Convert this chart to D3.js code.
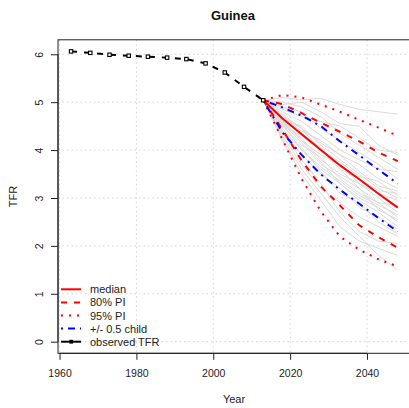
<!DOCTYPE html>
<html><head><meta charset="utf-8">
<script src="https://cdn.jsdelivr.net/npm/d3@7"></script>
<style>body{margin:0;background:#fff}svg{display:block}text{font-family:"Liberation Sans",Arial,sans-serif}</style>
</head><body><svg id="c" width="409" height="408"></svg>
<script>
const obsYears = [1963,1968,1973,1978,1983,1988,1993,1998,2003,2008,2013];
const obsTFR = [6.06,6.03,5.99,5.97,5.95,5.93,5.90,5.81,5.62,5.32,5.04];
const projYears = [2013,2018,2023,2028,2033,2038,2043,2048];
const medianTFR = [5.04,4.66,4.33,4.00,3.68,3.39,3.09,2.80];
const pi80Low = [5.04,4.43,3.78,3.24,2.84,2.43,2.18,1.96];
const pi80High = [5.04,4.96,4.77,4.57,4.38,4.18,3.95,3.77];
const pi95Low = [5.04,4.22,3.40,2.72,2.19,1.92,1.72,1.57];
const pi95High = [5.04,5.15,5.10,4.95,4.80,4.63,4.47,4.30];
const halfChildLow = [5.04,4.37,3.90,3.49,3.17,2.88,2.58,2.30];
const halfChildHigh = [5.04,4.89,4.72,4.50,4.18,3.89,3.59,3.30];
const trajectories = [
 [5.04,5.10,5.05,5.08,4.95,4.85,4.80,4.75],
 [5.04,4.95,5.00,4.80,4.55,4.50,4.10,3.90],
 [5.04,4.85,4.70,4.60,4.50,4.25,4.00,3.95],
 [5.04,4.80,4.60,4.30,4.00,3.80,3.60,3.55],
 [5.04,4.70,4.40,4.20,3.90,3.70,3.40,3.20],
 [5.04,4.65,4.50,4.10,3.80,3.50,3.20,3.00],
 [5.04,4.60,4.20,3.90,3.70,3.30,3.10,2.95],
 [5.04,4.55,4.25,3.80,3.50,3.30,3.00,2.70],
 [5.04,4.50,4.10,3.85,3.40,3.10,2.90,2.60],
 [5.04,4.45,4.00,3.60,3.30,3.00,2.80,2.50],
 [5.04,4.40,3.90,3.50,3.20,2.80,2.60,2.35],
 [5.04,4.30,3.70,3.20,2.90,2.60,2.40,2.20],
 [5.04,4.20,3.50,2.95,2.40,2.10,1.95,1.80],
 [5.04,4.35,3.80,3.30,2.70,2.30,2.10,2.05],
 [5.04,4.75,4.45,4.00,3.75,3.45,3.35,3.05],
 [5.04,4.68,4.35,4.05,3.60,3.40,3.15,3.10],
 [5.04,4.90,4.80,4.45,4.20,3.95,3.70,3.40],
 [5.04,4.58,4.15,3.70,3.45,3.20,2.75,2.55],
 [5.04,4.50,4.30,4.00,3.60,3.20,2.90,2.85],
 [5.04,4.25,3.60,3.10,2.60,2.20,1.80,1.50],
 [5.04,4.62,4.20,3.75,3.30,2.95,2.70,2.40],
 [5.04,5.00,4.90,4.70,4.35,4.10,3.85,3.60],
 [5.04,4.72,4.45,4.15,3.90,3.55,3.25,3.15],
 [5.04,4.40,4.05,3.55,3.10,2.90,2.50,2.25],
 [5.04,4.55,4.00,3.65,3.35,3.05,2.85,2.65]
];
const xTicks = [1960,1980,2000,2020,2040];
const yTicks = [0,1,2,3,4,5,6];
const legendLabels = ["median","80% PI","95% PI","+/- 0.5 child","observed TFR"];

const svg = d3.select("#c");
const pL = 58, pR = 410.8, pT = 39.8, pB = 353.3;
const x = d3.scaleLinear().domain([1959.6, 2051.4]).range([pL, pR]);
const y = d3.scaleLinear().domain([-0.2424, 6.3024]).range([pB, pT]);
const ink = "#222";

// grid
svg.append("g").selectAll("line").data(xTicks).join("line")
  .attr("x1", d => x(d)).attr("x2", d => x(d)).attr("y1", pT).attr("y2", pB)
  .attr("stroke", "#d3d3d3").attr("stroke-dasharray", "1.5,3");
svg.append("g").selectAll("line").data(yTicks).join("line")
  .attr("x1", pL).attr("x2", pR).attr("y1", d => y(d)).attr("y2", d => y(d))
  .attr("stroke", "#d3d3d3").attr("stroke-dasharray", "1.5,3");

const line = d3.line().x(d => x(d[0])).y(d => y(d[1]));
const zipP = arr => projYears.map((yr, i) => [yr, arr[i]]);

// trajectories
svg.append("g").selectAll("path").data(trajectories).join("path")
  .attr("d", d => line(zipP(d))).attr("fill", "none")
  .attr("stroke", "#dadada").attr("stroke-width", 1);

const styles = {
  median: {c: "#ff0000", dash: null},
  pi80: {c: "#ff0000", dash: "6,7"},
  pi95: {c: "#ff0000", dash: "2,6"},
  half: {c: "#0000ff", dash: "2,5,7,5"}
};
function drawP(arr, st) {
  svg.append("path").attr("d", line(zipP(arr))).attr("fill", "none")
    .attr("stroke", st.c).attr("stroke-width", 2)
    .attr("stroke-dasharray", st.dash);
}
drawP(pi95Low, styles.pi95); drawP(pi95High, styles.pi95);
drawP(pi80Low, styles.pi80); drawP(pi80High, styles.pi80);
drawP(halfChildLow, styles.half); drawP(halfChildHigh, styles.half);
drawP(medianTFR, styles.median);

// observed
const obs = obsYears.map((yr, i) => [yr, obsTFR[i]]);
svg.append("path").attr("d", line(obs)).attr("fill", "none")
  .attr("stroke", "#000").attr("stroke-width", 2).attr("stroke-dasharray", "6,7");
svg.append("g").selectAll("rect").data(obs).join("rect")
  .attr("x", d => x(d[0]) - 1.7).attr("y", d => y(d[1]) - 1.7)
  .attr("width", 3.4).attr("height", 3.4)
  .attr("fill", "#fff").attr("stroke", "#000").attr("stroke-width", 1.1);

// box
svg.append("rect").attr("x", pL).attr("y", pT).attr("width", pR - pL).attr("height", pB - pT)
  .attr("fill", "none").attr("stroke", ink).attr("stroke-width", 1);

// axes
const xa = svg.append("g").attr("transform", `translate(0,${pB})`)
  .call(d3.axisBottom(x).tickValues(xTicks).tickFormat(d3.format("d")).tickSize(6.5).tickPadding(10));
xa.select(".domain").attr("d", `M${x(1960)},0H${x(2040)}`).attr("stroke", ink);
xa.selectAll(".tick line").attr("stroke", ink);
xa.selectAll("text").attr("font-size", 10.5).attr("fill", ink).attr("font-family", "Liberation Sans, Arial, sans-serif");

const ya = svg.append("g").attr("transform", `translate(${pL},0)`)
  .call(d3.axisLeft(y).tickValues(yTicks).tickSize(7));
ya.select(".domain").attr("d", `M0,${y(0)}V${y(6)}`).attr("stroke", ink);
ya.selectAll(".tick line").attr("stroke", ink);
ya.selectAll("text").remove();
ya.selectAll(".tick").append("text")
  .attr("transform", "translate(-15,0) rotate(-90)")
  .attr("text-anchor", "middle").attr("dy", "0em")
  .attr("font-size", 10.5).attr("fill", ink).attr("font-family", "Liberation Sans, Arial, sans-serif")
  .text(d => d);

// titles
svg.append("text").attr("x", 233).attr("y", 20).attr("text-anchor", "middle")
  .attr("font-size", 13).attr("font-weight", "bold").attr("fill", "#111").text("Guinea");
svg.append("text").attr("x", 234).attr("y", 403).attr("text-anchor", "middle")
  .attr("font-size", 11).attr("fill", ink).text("Year");
svg.append("text").attr("transform", "translate(17,196.5) rotate(-90)").attr("text-anchor", "middle")
  .attr("font-size", 11).attr("fill", ink).text("TFR");

// legend
const legStyles = [styles.median, styles.pi80, styles.pi95, styles.half, {c: "#000", dash: null}];
const lg = svg.append("g");
legendLabels.forEach((lab, i) => {
  const ly = 289.3 + i * 13.1;
  const st = legStyles[i];
  lg.append("line").attr("x1", 61).attr("x2", 81).attr("y1", ly).attr("y2", ly)
    .attr("stroke", st.c).attr("stroke-width", 2).attr("stroke-dasharray", st.dash);
  if (i === 4) lg.append("rect").attr("x", 69.3).attr("y", ly - 1.9).attr("width", 3.8).attr("height", 3.8).attr("fill", "#000");
  lg.append("text").attr("x", 90).attr("y", ly + 4).attr("font-size", 11).attr("fill", ink).text(lab);
});
</script></body></html>
